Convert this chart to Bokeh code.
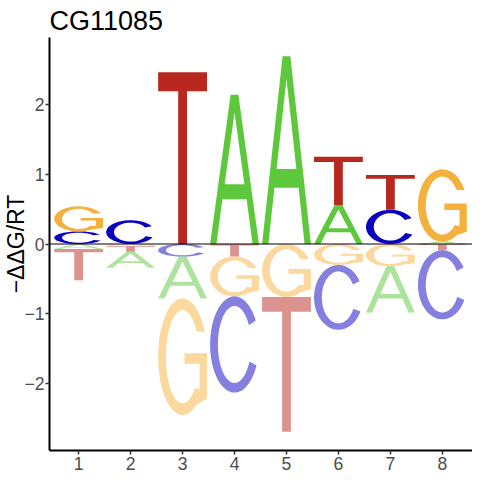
import numpy as np
from bokeh.plotting import figure
from bokeh.models import ColumnDataSource, Range1d, FixedTicker, Span
from bokeh.embed import file_html
from bokeh.resources import INLINE

# ---- data ----
title_text = "CG11085"
positions = [1, 2, 3, 4, 5, 6, 7, 8]
letters = ["A", "C", "G", "T"]
A_vals = [-0.07, -0.23, -0.60, 2.14, 2.69, 0.56, -0.66, 0.03]
C_vals = [0.18, 0.34, -0.18, -1.38, 0.00, -0.93, 0.49, -0.99]
G_vals = [0.36, -0.03, -1.67, -0.57, -0.76, -0.30, -0.32, 1.04]
T_vals = [-0.45, -0.08, 2.46, -0.18, -1.93, 0.69, 0.50, -0.09]
y_ticks = [-2, -1, 0, 1, 2]
x_ticks = positions
colors = {"A": "#5DC83B", "C": "#0B00C2", "G": "#F5B13D", "T": "#B9281F"}

values = {"A": A_vals, "C": C_vals, "G": G_vals, "T": T_vals}

# ---- letter outlines in a unit box ----
def arc(rx, ry, a0, a1, n=60):
    a = np.radians(np.linspace(a0, a1, n))
    return list(0.5 + rx * np.cos(a)), list(0.5 + ry * np.sin(a))

def shape_A():
    ox = [0, 0.42, 0.58, 1, 0.87, 0.747, 0.253, 0.13]
    oy = [0, 1, 1, 0, 0, 0.30, 0.30, 0]
    hx = [0.298, 0.5, 0.702]
    hy = [0.40, 0.88, 0.40]
    return [(ox, oy), (hx, hy)]

def shape_C():
    ox, oy = arc(0.5, 0.5, 30, 334)
    ix, iy = arc(0.34, 0.40, 334, 30)
    return [(ox + ix, oy + iy)]

def shape_G():
    ox, oy = arc(0.5, 0.5, 25, 305)
    sx = [1.0, 1.0, 0.54, 0.54, 0.85, 0.85]
    sy = [0.14, 0.53, 0.53, 0.44, 0.44, 0.22]
    ix, iy = arc(0.34, 0.40, 318, 33)
    return [(ox + sx + ix, oy + sy + iy)]

def shape_T():
    x = [0, 1, 1, 0.59, 0.59, 0.41, 0.41, 0]
    y = [1, 1, 0.89, 0.89, 0, 0, 0.89, 0.89]
    return [(x, y)]

shapes = {"A": shape_A(), "C": shape_C(), "G": shape_G(), "T": shape_T()}

half_w = 0.47
xs, ys, fills, alphas = [], [], [], []
pos_tot, neg_tot = [], []
for i, pos in enumerate(positions):
    col = [(L, values[L][i]) for L in letters]
    col.sort(key=lambda t: abs(t[1]))
    up, down = 0.0, 0.0
    for L, v in col:
        if v == 0:
            continue
        if v > 0:
            y0, y1 = up, up + v
            up = y1
            a = 1.0
        else:
            y0, y1 = down + v, down
            down = y0
            a = 0.5
        rings_x, rings_y = [], []
        for (ux, uy) in shapes[L]:
            rings_x.append([pos - half_w + u * 2 * half_w for u in ux])
            rings_y.append([y0 + u * (y1 - y0) for u in uy])
        xs.append([rings_x])
        ys.append([rings_y])
        fills.append(colors[L])
        alphas.append(a)
    pos_tot.append(up)
    neg_tot.append(-down)

lim = max(max(pos_tot), max(neg_tot)) * 1.1

src = ColumnDataSource(dict(xs=xs, ys=ys, fill=fills, alpha=alphas))

p = figure(width=472, height=472, output_backend="svg", toolbar_location=None,
           x_range=Range1d(0.439, 8.58), y_range=Range1d(-lim, lim),
           min_border_left=43, min_border_right=0, min_border_top=37,
           min_border_bottom=22, title=title_text)
p.multi_polygons(xs="xs", ys="ys", source=src, fill_color="fill",
                 fill_alpha="alpha", line_color=None)
p.add_layout(Span(location=0, dimension="width", line_color="black",
                  line_width=1.1))

p.title.text_font = "Liberation Sans"
p.title.text_font_size = "27px"
p.title.text_font_style = "normal"
p.title.text_color = "black"
p.title.align = "left"
p.title.standoff = 4

p.xgrid.visible = False
p.ygrid.visible = False
p.outline_line_color = None
p.background_fill_color = "white"
p.border_fill_color = "white"

for ax in (p.xaxis[0], p.yaxis[0]):
    ax.axis_line_color = "black"
    ax.axis_line_width = 2
    ax.major_tick_line_color = "#333333"
    ax.major_tick_line_width = 1.5
    ax.major_tick_in = 0
    ax.major_tick_out = 4
    ax.minor_tick_line_color = None
    ax.major_label_text_font = "Liberation Sans"
    ax.major_label_text_font_size = "17.6px"
    ax.major_label_text_color = "#4D4D4D"

p.xaxis.major_label_standoff = 2
p.yaxis.major_label_standoff = 1

p.xaxis.ticker = FixedTicker(ticks=x_ticks)
p.yaxis.ticker = FixedTicker(ticks=y_ticks)
p.yaxis.axis_label = "\u2212\u0394\u0394G/RT"
p.yaxis.axis_label_text_font = "Liberation Sans"
p.yaxis.axis_label_text_font_size = "23px"
p.yaxis.axis_label_text_font_style = "normal"
p.yaxis.axis_label_text_color = "black"
p.yaxis.axis_label_standoff = -8

open("out.html", "w").write(file_html(p, INLINE))
